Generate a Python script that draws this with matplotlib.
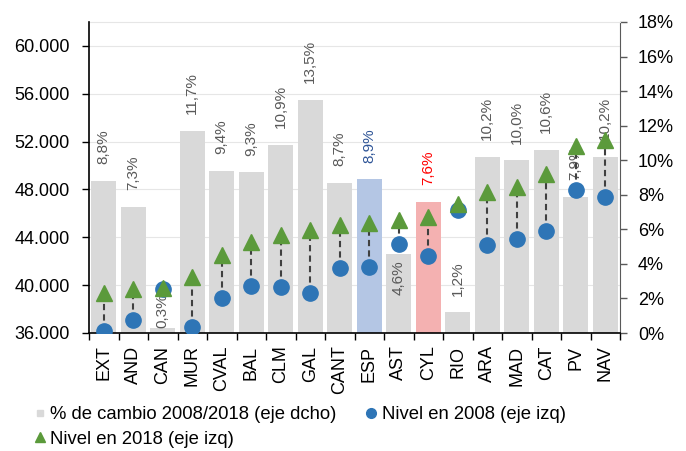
import numpy as np
import matplotlib.pyplot as plt
from matplotlib.lines import Line2D
from matplotlib.ticker import FuncFormatter, MultipleLocator

plt.rcParams['font.family'] = ['Liberation Sans', 'DejaVu Sans']

# Data
regions = ["EXT", "AND", "CAN", "MUR", "CVAL", "BAL", "CLM", "GAL", "CANT",
           "ESP", "AST", "CYL", "RIO", "ARA", "MAD", "CAT", "PV", "NAV"]
pct_change = [8.8, 7.3, 0.3, 11.7, 9.4, 9.3, 10.9, 13.5, 8.7,
              8.9, 4.6, 7.6, 1.2, 10.2, 10.0, 10.6, 7.9, 10.2]
level_2008 = [36190, 37080, 39720, 36470, 38940, 39920, 39860, 39360, 41420,
              41530, 43470, 42440, 46250, 43390, 43890, 44530, 47920, 47360]
level_2018 = [39330, 39720, 39800, 40700, 42560, 43610, 44170, 44600, 45000,
              45190, 45420, 45700, 46800, 47780, 48200, 49310, 51670, 52140]

x = np.arange(len(regions))

bar_colors = ["#d9d9d9"] * len(regions)
label_colors = ["#595959"] * len(regions)
bar_colors[regions.index("ESP")] = "#b4c6e4"
label_colors[regions.index("ESP")] = "#2f5597"
bar_colors[regions.index("CYL")] = "#f4b1b1"
label_colors[regions.index("CYL")] = "#ff0000"

fig = plt.figure(figsize=(6.86, 4.51), dpi=100)
ax = fig.add_axes([89 / 686, 1 - 333 / 451, 531 / 686, 311 / 451])
ax2 = ax.twinx()
ax.set_zorder(2)
ax2.set_zorder(1)
ax.patch.set_visible(False)

# bars on right axis
ax2.bar(x, pct_change, width=0.84, color=bar_colors, zorder=2)
ax2.set_ylim(0, 18)
ax2.yaxis.set_major_locator(MultipleLocator(2))
ax2.yaxis.set_major_formatter(FuncFormatter(lambda v, p: f"{v:.0f}%"))

for xi, v, c, name in zip(x, pct_change, label_colors, regions):
    txt = f"{v:.1f}%".replace(".", ",")
    if name == "AST":
        ax2.annotate(txt, (xi, v), xytext=(0, -5), textcoords="offset points",
                     rotation=90, ha="center", va="top", fontsize=11, color=c)
    else:
        off = 0 if name == "CAN" else 12
        ax2.annotate(txt, (xi, v), xytext=(0, off), textcoords="offset points",
                     rotation=90, ha="center", va="bottom", fontsize=11, color=c,
                     zorder=3)

# levels on left axis
ax.set_ylim(36000, 62000)
ax.set_yticks(np.arange(36000, 60001, 4000))
ax.yaxis.set_major_formatter(FuncFormatter(lambda v, p: f"{v/1000:.3f}"))
for xi, a, b in zip(x, level_2008, level_2018):
    ax.plot([xi, xi], [a, b], color="#404040", lw=1.5, dashes=(3, 2), zorder=2)
ax.plot(x, level_2008, "o", color="#2e75b6", ms=11, zorder=3)
ax.plot(x, level_2018, "^", color="#5b9a3b", ms=11, zorder=4)

# gridlines behind bars
for t in ax.get_yticks():
    ax2.axhline((t - 36000) / 26000 * 18, color="#e6e6e6", lw=0.8, zorder=0)
ax2.set_xticks(x - 0.5, minor=True)
ax2.set_xlim(-0.5, len(regions) - 0.5)
ax.set_xlim(-0.5, len(regions) - 0.5)
ax2.grid(which="minor", axis="x", color="#e6e6e6", lw=0.8, zorder=0)
ax2.set_axisbelow(True)

ax.set_xticks(x)
ax.set_xticklabels(regions, rotation=90, fontsize=13)
ax.set_xticks(np.arange(len(regions) + 1) - 0.5, minor=True)
ax.tick_params(axis="x", which="major", length=0, pad=9)
ax.tick_params(axis="x", which="minor", length=5, width=1, color="black")
ax.tick_params(axis="y", labelsize=13, length=5, width=1, pad=9)
ax2.tick_params(axis="y", labelsize=13, length=5, width=1, color="#595959", pad=8)
ax2.tick_params(axis="x", which="both", length=0)

ax.spines["top"].set_visible(False)
ax2.spines["top"].set_color("#e6e6e6")
ax.spines["right"].set_visible(False)
ax.spines["left"].set_linewidth(1.2)
ax.spines["bottom"].set_linewidth(1.2)
ax2.spines["right"].set_color("#595959")
ax2.spines["left"].set_visible(False)
ax2.spines["bottom"].set_visible(False)

handles = [
    Line2D([], [], ls="", marker="s", color="#d9d9d9", ms=5),
    Line2D([], [], ls="", marker="^", color="#5b9a3b", ms=7),
    Line2D([], [], ls="", marker="o", color="#2e75b6", ms=7),
]
labels = ["% de cambio 2008/2018 (eje dcho)", "Nivel en 2018 (eje izq)",
          "Nivel en 2008 (eje izq)"]
fig.legend(handles, labels, loc="upper left", bbox_to_anchor=(25 / 686, 1 - 397 / 451),
           ncol=2, frameon=False, fontsize=13.3, handlelength=0.6, handletextpad=0.25,
           columnspacing=1.6, labelspacing=0.4, borderpad=0)

fig.savefig("out.png", dpi=100)
